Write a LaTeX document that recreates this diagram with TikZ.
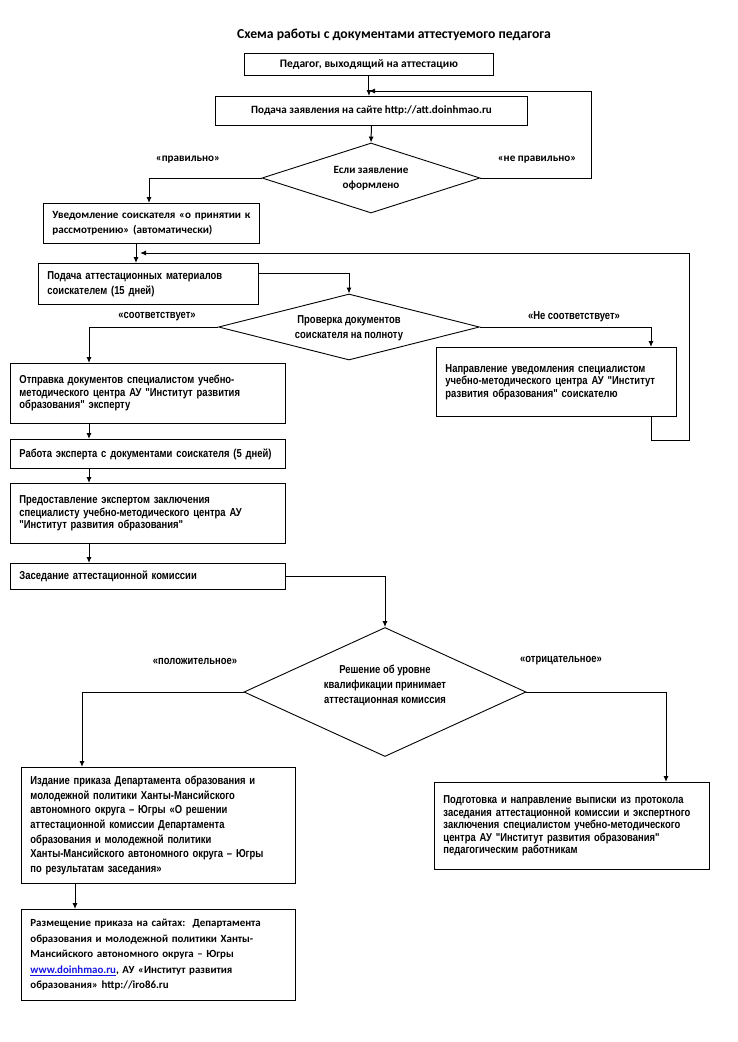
\documentclass[tikz,border=0pt]{standalone}
\usepackage{fontspec}
\setmainfont{Carlito}
\newfontfamily\nar[FakeStretch=0.82]{Liberation Sans}
\usetikzlibrary{arrows.meta,shapes.geometric}
\hyphenpenalty=10000
\exhyphenpenalty=10000
\begin{document}
\begin{tikzpicture}[x=1pt,y=1pt,
  every node/.style={inner sep=0pt},
  cal/.style={font={\fontsize{11.1}{15}\selectfont\bfseries}},
  narf/.style={font={\nar\fontsize{11.5}{12.5}\selectfont\bfseries}},
  box/.style={draw, line width=0.9pt, rectangle, anchor=north west, align=left, inner xsep=9pt, inner ysep=0pt},
  cbox/.style={draw, line width=0.9pt, rectangle, anchor=north west, align=center, inner sep=0pt},
  dia/.style={draw, line width=0.9pt, diamond, inner sep=0pt},
  arr/.style={line width=1pt, -{Latex[length=6pt,width=5pt]}}
]
\useasboundingbox (0,0) rectangle (737,-1042);

% title
\node[font={\fontsize{13.7}{15}\selectfont\bfseries}] (title) at (394,-35) {Схема работы с документами аттестуемого педагога};

% top part
\node[cbox, minimum width=249, minimum height=22, font={\fontsize{11.5}{13}\selectfont\bfseries}] (b1) at (244,-53) {Педагог, выходящий на аттестацию};
\node[cbox, cal, minimum width=312, minimum height=29] (b2) at (215,-96) {Подача заявления на сайте http://att.doinhmao.ru};
\node[dia, minimum width=218, minimum height=70] (d1) at (371,-178) {};
\node[cal, align=center] (d1t) at (371,-178) {Если заявление\\оформлено};
\node[cal] (l1) at (188,-160) {«правильно»};
\node[cal] (l2) at (537,-160) {«не правильно»};
\node[box, cal, text width=198, minimum height=40] (b3) at (43,-203) {Уведомление соискателя «о принятии к\\рассмотрению» (автоматически)};

% middle part
\node[box, text width=202, minimum height=41, font={\nar\fontsize{11.5}{15}\selectfont\bfseries}] (b4) at (38,-263) {Подача аттестационных материалов\\соискателем (15 дней)};
\node[dia, minimum width=261, minimum height=66] (d2) at (349,-327) {};
\node[align=center, font={\nar\fontsize{11.5}{15}\selectfont\bfseries}] (d2t) at (349,-328) {Проверка документов\\соискателя на полноту};
\node[narf] (l3) at (157,-317) {«соответствует»};
\node[narf] (l4) at (574,-317) {«Не соответствует»};
\node[box, narf, text width=257, minimum height=60] (b5) at (10,-363) {Отправка документов специалистом учебно-\\методического центра АУ "Институт развития\\образования" эксперту};
\node[box, narf, text width=222, minimum height=69] (b6) at (436,-347) {Направление уведомления специалистом\\учебно-методического центра АУ "Институт\\развития образования" соискателю};
\node[box, narf, text width=257, minimum height=29] (b7) at (10,-439) {Работа эксперта с документами соискателя (5 дней)};
\node[box, narf, text width=257, minimum height=60] (b8) at (10,-483) {Предоставление экспертом заключения\\специалисту учебно-методического центра АУ\\"Институт развития образования"};
\node[box, narf, text width=257, minimum height=26] (b9) at (10,-563) {Заседание аттестационной комиссии};

% bottom part
\node[dia, minimum width=282, minimum height=129] (d3) at (385,-692) {};
\node[align=center, font={\nar\fontsize{11.5}{15}\selectfont\bfseries}] (d3t) at (385,-685) {Решение об уровне\\квалификации принимает\\аттестационная комиссия};
\node[narf] (l5) at (195,-661) {«положительное»};
\node[narf] (l6) at (561,-661) {«отрицательное»};
\node[box, text width=256, minimum height=116, font={\nar\fontsize{11.5}{14.7}\selectfont\bfseries}] (b10) at (21,-767) {Издание приказа Департамента образования и\\молодежной политики Ханты-Мансийского\\автономного округа – Югры «О решении\\аттестационной комиссии Департамента\\образования и молодежной политики\\Ханты-Мансийского автономного округа – Югры\\по результатам заседания»};
\node[box, narf, text width=257, minimum height=87] (b11) at (434,-782) {Подготовка и направление выписки из протокола\\заседания аттестационной комиссии и экспертного\\заключения специалистом учебно-методического\\центра АУ "Институт развития образования"\\педагогическим работникам};
\node[box, text width=256, minimum height=91, font={\fontsize{10.9}{15.5}\selectfont\bfseries}] (b12) at (21,-909) {Размещение приказа на сайтах:\ \ Департамента\\образования и молодежной политики Ханты-\\Мансийского автономного округа – Югры\\{\color[RGB]{20,20,230}\underline{www.doinhmao.ru}}, АУ «Институт развития\\образования» http://iro86.ru};

% coordinates for connectors
\coordinate (fb1) at (369,-91);
\coordinate (r1) at (591,-91);
\coordinate (a34) at (136,-243);
\coordinate (fb2) at (140,-253);
\coordinate (r2a) at (651,-440);
\coordinate (r2b) at (689,-440);
\coordinate (r2c) at (689,-253);
\coordinate (e4) at (258,-273);

% connectors
\draw[arr] (b1.south) -- (b1.south |- b2.north);
\draw[arr] (d1.east) -| (r1) -- (fb1);
\draw[arr] (b2.south) -- (d1.north);
\draw[arr] (d1.west) -| (b3.north -| 149,0);
\draw[arr] (a34) -- (a34 |- b4.north);
\draw[arr] (e4) -| (d2.north);
\draw[arr] (d2.west) -| (b5.north -| 89,0);
\draw[arr] (d2.east) -| (b6.north -| 651,0);
\draw[arr] (b6.south -| r2a) -- (r2a) -- (r2b) -- (r2c) -- (fb2);
\draw[arr] (b5.south -| 89,0) -- (b7.north -| 89,0);
\draw[arr] (b7.south -| 89,0) -- (b8.north -| 89,0);
\draw[arr] (b8.south -| 89,0) -- (b9.north -| 89,0);
\draw[arr] (b9.east) -| (d3.north);
\draw[arr] (d3.west) -| (b10.north -| 82,0);
\draw[arr] (d3.east) -| (b11.north -| 666,0);
\draw[arr] (b10.south -| 75,0) -- (b12.north -| 75,0);
\end{tikzpicture}
\end{document}
